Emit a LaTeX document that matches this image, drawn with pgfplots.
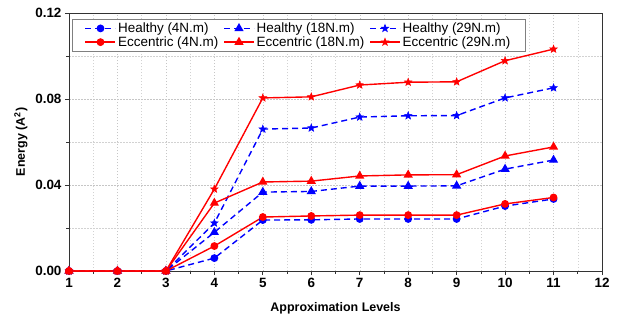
\documentclass[border=0pt]{standalone}
\usepackage{pgfplots}
\pgfplotsset{compat=1.18}
\usepackage{fontspec}
\setmainfont{Liberation Sans}
\pgfdeclareplotmark{fstar}{%
  \pgfpathmoveto{\pgfpointpolar{90}{\pgfplotmarksize}}%
  \pgfpathlineto{\pgfpointpolar{126}{0.42\pgfplotmarksize}}%
  \pgfpathlineto{\pgfpointpolar{162}{\pgfplotmarksize}}%
  \pgfpathlineto{\pgfpointpolar{198}{0.42\pgfplotmarksize}}%
  \pgfpathlineto{\pgfpointpolar{234}{\pgfplotmarksize}}%
  \pgfpathlineto{\pgfpointpolar{270}{0.42\pgfplotmarksize}}%
  \pgfpathlineto{\pgfpointpolar{306}{\pgfplotmarksize}}%
  \pgfpathlineto{\pgfpointpolar{342}{0.42\pgfplotmarksize}}%
  \pgfpathlineto{\pgfpointpolar{18}{\pgfplotmarksize}}%
  \pgfpathlineto{\pgfpointpolar{54}{0.42\pgfplotmarksize}}%
  \pgfpathclose
  \pgfusepathqfillstroke}
\begin{document}
\begin{tikzpicture}[x=1bp,y=1bp]
\useasboundingbox (-69bp,-49bp) rectangle (554bp,271bp);
\begin{axis}[
  at={(0,0)}, anchor=south west,
  width=533bp, height=258bp, scale only axis,
  xmin=1, xmax=12, ymin=0, ymax=0.12,
  xtick={1,2,...,12}, minor xtick={1.5,2.5,...,11.5},
  ytick={0,0.04,0.08,0.12}, minor ytick={0.02,0.06,0.10},
  xtick pos=bottom, ytick pos=left,
  tick align=outside,
  major tick length=4bp, minor tick length=2.5bp,
  grid=both,
  major grid style={gray!45, dash pattern=on 1.5bp off 1.5bp, line width=0.4pt},
  minor grid style={gray!35, dash pattern=on 1.5bp off 1.5bp, line width=0.4pt},
  axis line style={black!80, line width=0.8pt},
  tick style={black!80, line width=0.7pt},
  scaled y ticks=false,
  /pgf/number format/assume math mode=true,
  yticklabel style={/pgf/number format/.cd, fixed, fixed zerofill, precision=2},
  ticklabel style={font=\fontsize{13.5}{15}\selectfont\bfseries},
  xlabel={Approximation Levels},
  ylabel={Energy (A\textsuperscript{2})},
  label style={font=\fontsize{12.5}{14}\selectfont\bfseries},
  xlabel style={yshift=-8bp},
  ylabel style={yshift=1bp},
  legend columns=3,
  legend style={at={(3bp,252bp)}, anchor=north west, draw=gray, line width=0.6pt,
    font=\fontsize{13.5}{15}\selectfont, inner xsep=12.5bp, inner ysep=1.5bp, row sep=-1.5bp,
    /tikz/every even column/.append style={column sep=3bp}},
  legend cell align=left,
  every axis plot post/.append style={legend image code/.code={\draw[mark repeat=2,mark phase=2] plot coordinates {(0bp,0bp) (15bp,0bp) (30bp,0bp)};}},
  every axis plot/.append style={line width=1.4pt, mark size=3.2pt},
  clip=false,
]
% Healthy
\addplot[blue, dash pattern=on 6bp off 4bp, mark=*, mark options={solid}] coordinates {
(1,0) (2,0) (3,0) (4,0.0060) (5,0.0237) (6,0.0238) (7,0.0242) (8,0.0242) (9,0.0242) (10,0.0302) (11,0.0335)};
\addlegendentry{Healthy (4N.m)}
\addplot[blue, dash pattern=on 6bp off 4bp, mark=triangle*, mark size=4pt, mark options={solid}] coordinates {
(1,0) (2,0) (3,0) (4,0.0180) (5,0.0367) (6,0.0370) (7,0.0395) (8,0.0395) (9,0.0396) (10,0.0474) (11,0.0516)};
\addlegendentry{Healthy (18N.m)}
\addplot[blue, dash pattern=on 6bp off 4bp, mark=fstar, mark size=4pt, mark options={solid, line width=0.5pt}] coordinates {
(1,0) (2,0) (3,0) (4,0.0223) (5,0.0660) (6,0.0665) (7,0.0716) (8,0.0722) (9,0.0723) (10,0.0805) (11,0.0852)};
\addlegendentry{Healthy (29N.m)}
% Eccentric
\addplot[red, mark=*] coordinates {
(1,0) (2,0) (3,0) (4,0.0116) (5,0.0251) (6,0.0256) (7,0.0260) (8,0.0260) (9,0.0260) (10,0.0312) (11,0.0342)};
\addlegendentry{Eccentric (4N.m)}
\addplot[red, mark=triangle*, mark size=4pt] coordinates {
(1,0) (2,0) (3,0) (4,0.0316) (5,0.0414) (6,0.0418) (7,0.0442) (8,0.0447) (9,0.0448) (10,0.0535) (11,0.0577)};
\addlegendentry{Eccentric (18N.m)}
\addplot[red, mark=fstar, mark size=4pt, mark options={line width=0.5pt}] coordinates {
(1,0) (2,0) (3,0) (4,0.0381) (5,0.0805) (6,0.0810) (7,0.0865) (8,0.0878) (9,0.0880) (10,0.0978) (11,0.1032)};
\addlegendentry{Eccentric (29N.m)}
\end{axis}
\end{tikzpicture}
\end{document}
